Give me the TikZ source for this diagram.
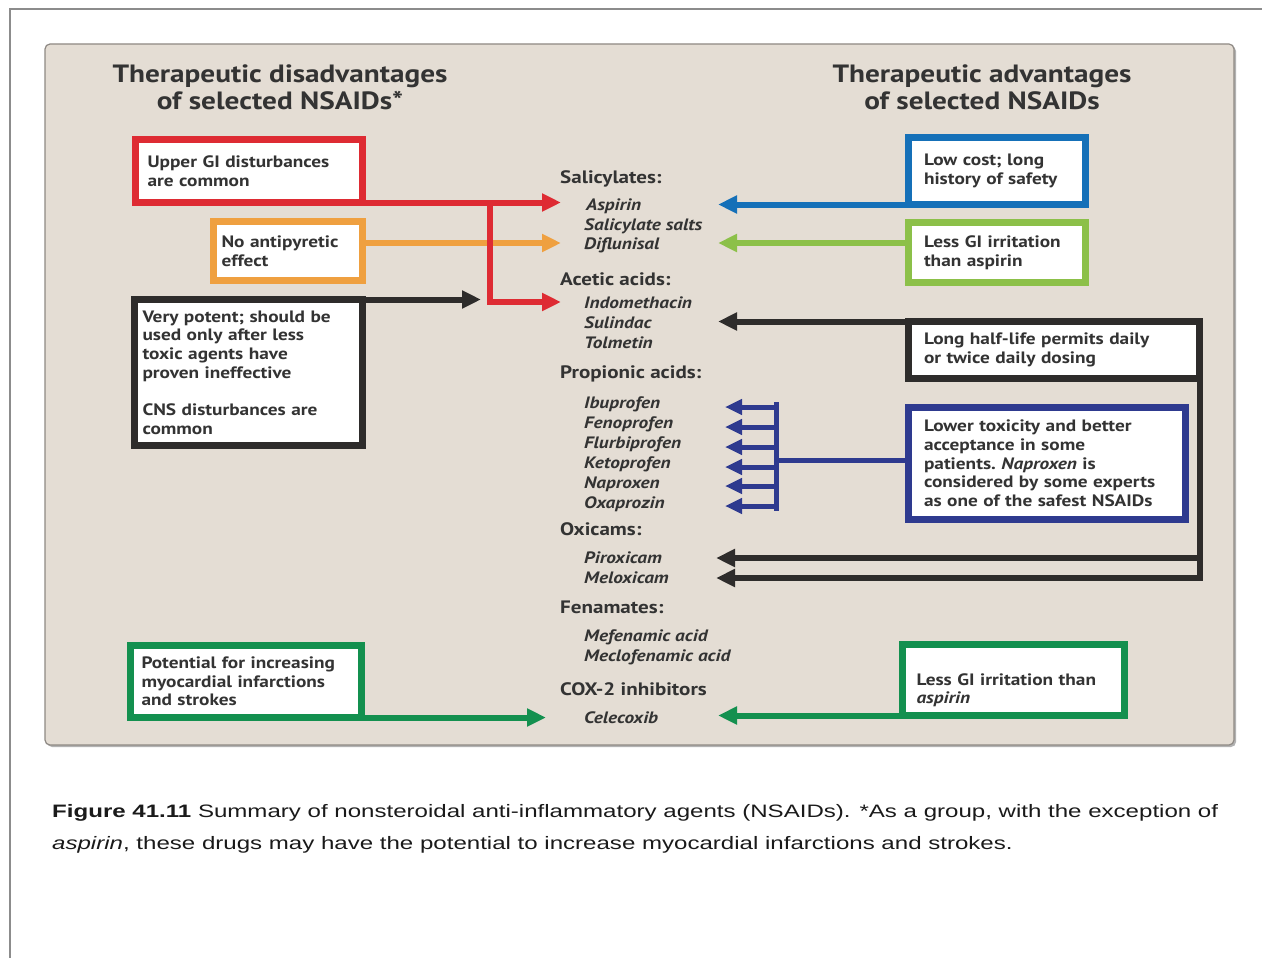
\documentclass[tikz,border=0pt]{standalone}
\usepackage{fontspec}
\usepackage{graphicx}
\setmainfont{Liberation Sans}
\newfontfamily\dfont[FakeStretch=1.17]{PT Sans}
\usetikzlibrary{arrows.meta}
\definecolor{panel}{HTML}{E4DDD4}
\definecolor{panelline}{HTML}{8E8984}
\definecolor{framec}{HTML}{8C8C8C}
\definecolor{txt}{HTML}{333333}
\definecolor{cred}{HTML}{DE2B33}
\definecolor{corange}{HTML}{EFA040}
\definecolor{cblack}{HTML}{2E2C2B}
\definecolor{cblue}{HTML}{1570B8}
\definecolor{clgreen}{HTML}{8CC049}
\definecolor{cdblue}{HTML}{2E3A8F}
\definecolor{cdgreen}{HTML}{13904F}
\definecolor{captxt}{HTML}{1A1A1A}
\newcommand\bxfont{\dfont\bfseries\fontsize{16.5}{18.7}\selectfont\frenchspacing}
\newcommand\hdfont{\dfont\bfseries\fontsize{25}{27.5}\selectfont}
\newcommand\clsfont{\dfont\bfseries\fontsize{18}{20}\selectfont}
\newcommand\drgfont{\dfont\bfseries\itshape\fontsize{16.5}{20}\selectfont}
\newcommand\captionone{\textbf{Figure 41.11} Summary of nonsteroidal anti-inflammatory agents (NSAIDs). *As a group, with the exception of}
\newcommand\captiontwo{\textit{aspirin}, these drugs may have the potential to increase myocardial infarctions and strokes.}
\newlength\capw
\begin{document}
\settowidth\capw{\normalfont\fontsize{18}{20}\selectfont\captionone}%
\pgfmathsetmacro\capfac{1166/\capw}%
\begin{tikzpicture}[x=1pt,y=-1pt,
  box/.style={draw, line width=7pt, fill=white, outer sep=0pt, inner sep=0pt, align=left, font=\bxfont, text=txt},
  conn/.style={line width=6pt, line join=miter},
  connb/.style={line width=5pt},
  tipa/.style={-{Triangle[length=19pt,width=17pt]}},
  tipb/.style={-{Triangle[length=17pt,width=15pt]}},
  hd/.style={font=\hdfont, text=txt, anchor=base, inner sep=0pt},
  cls/.style={font=\clsfont, text=txt, anchor=base west, inner sep=0pt},
  drug/.style={font=\drgfont, text=txt, anchor=base west, inner sep=0pt},
  captline/.style={font=\fontsize{18}{20}\selectfont, text=captxt, anchor=base west, inner sep=0pt}]
\useasboundingbox (0,0) rectangle (1262,958);
\fill[white] (0,0) rectangle (1262,958);
\draw[framec, line width=2pt] (9.5,958) -- (9.5,9.5) -- (1262,9.5);
\fill[gray!60, rounded corners=5pt] (47,46) rectangle (1236,747);
\draw[panelline, fill=panel, line width=1.2pt, rounded corners=5pt] (45,44) rectangle (1234,745);

% headers
\node[hd] (hl1) at (280,83) {Therapeutic disadvantages};
\node[hd] (hl2) at (280,110) {of selected NSAIDs*};
\node[hd] (hr1) at (982,83) {Therapeutic advantages};
\node[hd] (hr2) at (982,110) {of selected NSAIDs};

% centre column
\node[cls] (sal) at (560,183) {Salicylates:};
\node[drug] (asp) at (586,210) {Aspirin};
\node[drug] (sals) at (584,230) {Salicylate salts};
\node[drug] (dif) at (584,249) {Diflunisal};
\node[cls] (ace) at (560,285) {Acetic acids:};
\node[drug] (ind) at (584,308) {Indomethacin};
\node[drug] (sul) at (584,328) {Sulindac};
\node[drug] (tol) at (584,348) {Tolmetin};
\node[cls] (pro) at (560,378) {Propionic acids:};
\node[drug] (ibu) at (584,408) {Ibuprofen};
\node[drug] (fen) at (584,428) {Fenoprofen};
\node[drug] (flu) at (584,448) {Flurbiprofen};
\node[drug] (ket) at (584,468) {Ketoprofen};
\node[drug] (nap) at (584,488) {Naproxen};
\node[drug] (oxa) at (584,508) {Oxaprozin};
\node[cls] (oxi) at (560,535) {Oxicams:};
\node[drug] (pir) at (584,563) {Piroxicam};
\node[drug] (mel) at (584,583) {Meloxicam};
\node[cls] (fna) at (560,613) {Fenamates:};
\node[drug] (mef) at (584,641) {Mefenamic acid};
\node[drug] (mec) at (584,661) {Meclofenamic acid};
\node[cls] (cox) at (560,695) {COX-2 inhibitors};
\node[drug] (cel) at (584,723) {Celecoxib};

% arrow end points
\coordinate (tAsp) at (561,202.5);
\coordinate (tDif) at (561,243);
\coordinate (tInd) at (561,302);
\coordinate (rj) at (490,202.5);
\coordinate (tBL) at (481,299.5);
\coordinate (tAspR) at (718,204.5);
\coordinate (tDifR) at (718,243);
\coordinate (tSul) at (718,321.5);
\coordinate (tPir) at (716,558);
\coordinate (tMel) at (716,578);
\coordinate (tCelL) at (546,717.5);
\coordinate (tCelR) at (718,715.5);
\coordinate (bj) at (776,460);
\coordinate (bt) at (776,404.5);
\coordinate (bb) at (776,508.5);

% boxes (coordinates of centres)
\path
 node[box, draw=cred, minimum width=227pt, minimum height=63pt, text width=203pt] (red) at (249,171)
   {Upper GI disturbances\\are common}
 node[box, draw=corange, minimum width=149pt, minimum height=59pt, text width=133pt] (orange) at (288,251)
   {No antipyretic\\effect}
 node[box, draw=cblack, minimum width=228pt, minimum height=146pt, text width=212pt] (blackL) at (248.5,372.5)
   {Very potent; should be\\used only after less\\toxic agents have\\proven ineffective\\[18.7pt]CNS disturbances are\\common}
 node[box, draw=cdgreen, minimum width=231pt, minimum height=72pt, text width=209pt] (greenL) at (246,681.5)
   {Potential for increasing\\myocardial infarctions\\and strokes}
 node[box, draw=cblue, minimum width=177pt, minimum height=67pt, text width=146pt] (blue) at (997,171)
   {Low cost; long\\history of safety}
 node[box, draw=clgreen, minimum width=177pt, minimum height=60pt, text width=146pt] (lgreen) at (997,252.5)
   {Less GI irritation\\than aspirin}
 node[box, draw=cblack, minimum width=291pt, minimum height=57pt, text width=260pt] (blackR) at (1054,350)
   {Long half-life permits daily\\or twice daily dosing}
 node[box, draw=cdblue, minimum width=277pt, minimum height=112pt, text width=246pt] (dblue) at (1047,463.5)
   {Lower toxicity and better\\acceptance in some\\patients. \textit{Naproxen} is\\considered by some experts\\as one of the safest NSAIDs}
 node[box, draw=cdgreen, minimum width=222pt, minimum height=71pt, text width=194pt] (greenR) at (1013.5,680)
   {\rule{0pt}{32pt}Less GI irritation than\\\textit{aspirin}};

% connectors
\draw[conn, corange, tipa] (orange.east |- tDif) -- (tDif);
\draw[conn, cred, tipa] (red.south east) -- (tAsp);
\draw[conn, cred, tipa] (rj) |- (tInd);
\draw[conn, cblack, tipa] (blackL.north east) -- (tBL);
\draw[conn, cblue, tipa] (blue.south west) -- (tAspR);
\draw[conn, clgreen, tipa] (lgreen.west |- tDifR) -- (tDifR);
\draw[conn, cblack, tipa] (blackR.north west) -- (tSul);
\draw[conn, cblack, tipa] (blackR.south east) -- (blackR.south east |- tMel) -- (tMel);
\draw[conn, cblack, tipa] (blackR.south east |- tPir) -- (tPir);
\draw[connb, cdblue] (dblue.west |- bj) -- (bj);
\draw[connb, cdblue, line cap=rect] (bt) -- (bb);
\foreach \yy/\nm in {407/ibu,427/fen,447/flu,467/ket,486/nap,506/oxa}{
  \coordinate (s\nm) at (776,\yy);
  \coordinate (e\nm) at (725,\yy);
  \draw[connb, cdblue, tipb] (s\nm) -- (e\nm);
}
\draw[conn, cdgreen, tipa] (greenL.south east) -- (tCelL);
\draw[conn, cdgreen, tipa] (greenR.south west) -- (tCelR);

% caption
\node[captline] (cap1) at (52,817) {\scalebox{\capfac}[1]{\captionone}};
\node[captline] (cap2) at (52,849) {\scalebox{\capfac}[1]{\captiontwo}};
\end{tikzpicture}
\end{document}
